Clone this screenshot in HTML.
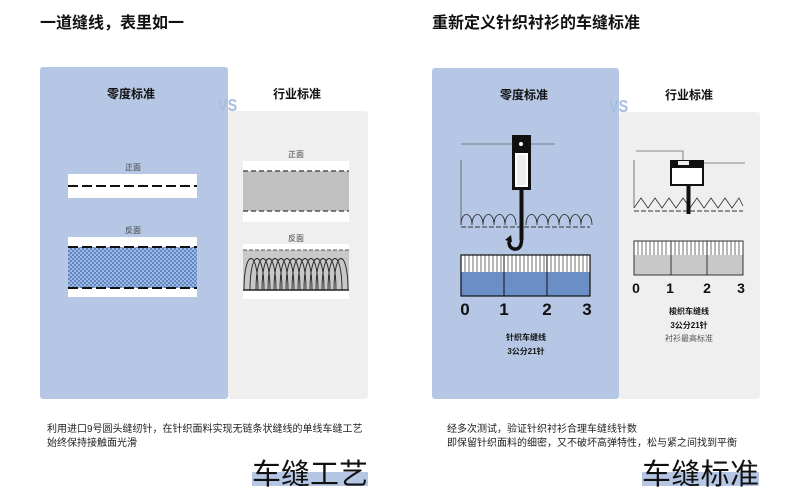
<!DOCTYPE html>
<html><head><meta charset="utf-8"><style>
body{margin:0;width:800px;height:500px;background:#fff;overflow:hidden;font-family:"Liberation Sans","Noto Sans CJK SC",sans-serif;}
svg{position:absolute;left:0;top:0}
</style></head><body>
<svg width="800" height="500" viewBox="0 0 800 500" xmlns="http://www.w3.org/2000/svg" font-family="Liberation Sans, Noto Sans CJK SC, sans-serif">
<defs>
<pattern id="dots" width="4" height="4" patternUnits="userSpaceOnUse"><rect width="4" height="4" fill="#6088c6"/><circle cx="1" cy="1" r="1" fill="#b3c6e6"/><circle cx="3" cy="3" r="1" fill="#b3c6e6"/></pattern>
</defs>
<text x="40" y="28" font-size="16" font-weight="bold" fill="#111">一道缝线，表里如一</text>
<text x="432" y="28" font-size="16" font-weight="bold" fill="#111">重新定义针织衬衫的车缝标准</text>

<!-- LEFT -->
<rect x="228" y="111" width="140" height="288" rx="3" fill="#efefef"/>
<rect x="40" y="67" width="188" height="332" rx="3" fill="#b5c7e4"/>
<text x="131" y="98" font-size="12" font-weight="bold" text-anchor="middle" fill="#111">零度标准</text>
<text x="297" y="98" font-size="12" font-weight="bold" text-anchor="middle" fill="#111">行业标准</text>
<text x="0" y="0" font-size="18" font-weight="bold" fill="#a8bde0" transform="translate(218,111) scale(0.8,1)">VS</text>
<text x="133" y="170" font-size="8" text-anchor="middle" fill="#444">正面</text>
<rect x="68" y="174" width="129" height="24" fill="#fff"/>
<line x1="68" y1="186" x2="197" y2="186" stroke="#111" stroke-width="2" stroke-dasharray="10,4"/>
<text x="133" y="233" font-size="8" text-anchor="middle" fill="#444">反面</text>
<rect x="68" y="237" width="129" height="60" fill="#fff"/>
<rect x="68" y="247" width="129" height="41" fill="url(#dots)"/>
<line x1="68" y1="247" x2="197" y2="247" stroke="#111" stroke-width="2" stroke-dasharray="10,4"/>
<line x1="68" y1="288" x2="197" y2="288" stroke="#111" stroke-width="2" stroke-dasharray="10,4"/>

<text x="296" y="157" font-size="8" text-anchor="middle" fill="#444">正面</text>
<rect x="243" y="161" width="106" height="61" fill="#fff"/>
<rect x="243" y="171" width="106" height="40" fill="#c0c0c0"/>
<line x1="243" y1="171" x2="349" y2="171" stroke="#555" stroke-width="1.5" stroke-dasharray="5,3"/>
<line x1="243" y1="211" x2="349" y2="211" stroke="#555" stroke-width="1.5" stroke-dasharray="5,3"/>
<text x="296" y="241" font-size="8" text-anchor="middle" fill="#444">反面</text>
<rect x="243" y="244" width="106" height="55" fill="#fff"/>
<rect x="243" y="250" width="106" height="40" fill="#c8c8c8"/>
<g fill="none" stroke="#222" stroke-width="0.9">
<path d="M244 290 C244 248 258 248 258 290 M250 290 C250 248 264 248 264 290 M256 290 C256 248 270 248 270 290 M262 290 C262 248 276 248 276 290 M268 290 C268 248 282 248 282 290 M274 290 C274 248 288 248 288 290 M280 290 C280 248 294 248 294 290 M286 290 C286 248 300 248 300 290 M292 290 C292 248 306 248 306 290 M298 290 C298 248 312 248 312 290 M304 290 C304 248 318 248 318 290 M310 290 C310 248 324 248 324 290 M316 290 C316 248 330 248 330 290 M322 290 C322 248 336 248 336 290 M328 290 C328 248 342 248 342 290 M334 290 C334 248 348 248 348 290"/>
</g>
<line x1="243" y1="250" x2="349" y2="250" stroke="#555" stroke-dasharray="4,2"/>
<line x1="243" y1="290" x2="349" y2="290" stroke="#222" stroke-width="1.5"/>

<text x="47" y="432" font-size="10" fill="#222">利用进口9号圆头缝纫针，在针织面料实现无链条状缝线的单线车缝工艺</text>
<text x="47" y="446" font-size="10" fill="#222">始终保持接触面光滑</text>
<rect x="252" y="472" width="116" height="14" fill="#b5c7e4"/>
<text x="252" y="484" font-size="29" fill="#111" textLength="116">车缝工艺</text>

<!-- RIGHT -->
<rect x="619" y="112" width="141" height="287" rx="3" fill="#efefef"/>
<rect x="432" y="68" width="187" height="331" rx="3" fill="#b5c7e4"/>
<text x="524" y="99" font-size="12" font-weight="bold" text-anchor="middle" fill="#111">零度标准</text>
<text x="689" y="99" font-size="12" font-weight="bold" text-anchor="middle" fill="#111">行业标准</text>
<text x="0" y="0" font-size="18" font-weight="bold" fill="#a8bde0" transform="translate(609,112) scale(0.8,1)">VS</text>
<!-- hook machine -->
<line x1="461" y1="144" x2="555" y2="144" stroke="#666" stroke-width="0.8"/>
<line x1="461" y1="160" x2="461" y2="225" stroke="#555" stroke-width="0.8"/>
<g fill="none" stroke="#222" stroke-width="0.8">
<path d="M461 225 C461 211 472 211 472 225 C472 211 483 211 483 225 C483 211 494 211 494 225 C494 211 505 211 505 225 C505 211 516 211 516 225 M526 225 C526 211 537 211 537 225 C537 211 548 211 548 225 C548 211 559 211 559 225 C559 211 570 211 570 225 C570 211 581 211 581 225 C581 211 592 211 592 225"/>
</g>
<line x1="461" y1="227" x2="590" y2="227" stroke="#333" stroke-width="1" stroke-dasharray="5,2"/>
<rect x="512" y="135" width="19" height="55" fill="#111"/>
<rect x="515" y="153" width="13" height="34" fill="#fff"/>
<rect x="517" y="155" width="9" height="30" fill="#eee"/>
<circle cx="521" cy="144" r="2" fill="#fff"/>
<rect x="519.5" y="190" width="4" height="50" fill="#111"/>
<path d="M521.5 238 Q522 250 514 249 Q507 247 510 238" fill="none" stroke="#111" stroke-width="3.5"/>
<path d="M505 240 L511 235 L512 242 Z" fill="#111"/>
<!-- ruler -->
<rect x="461" y="255" width="129" height="41" fill="#fff" stroke="#111" stroke-width="1"/>
<rect x="461" y="272" width="129" height="24" fill="#6a8fc6"/>
<g stroke="#333" stroke-width="0.7">
<path d="M465 255v17M469 255v17M473 255v17M477 255v17M481 255v17M485 255v17M489 255v17M493 255v17M497 255v17M501 255v17M508 255v17M512 255v17M516 255v17M520 255v17M524 255v17M528 255v17M532 255v17M536 255v17M540 255v17M544 255v17M551 255v17M555 255v17M559 255v17M563 255v17M567 255v17M571 255v17M575 255v17M579 255v17M583 255v17M587 255v17"/>
</g>
<rect x="461" y="255" width="129" height="41" fill="none" stroke="#111" stroke-width="1.2"/>
<line x1="504" y1="255" x2="504" y2="296" stroke="#111"/>
<line x1="547" y1="255" x2="547" y2="296" stroke="#111"/>
<g font-size="17" font-weight="bold" fill="#111" text-anchor="middle">
<text x="465" y="315">0</text><text x="504" y="315">1</text><text x="547" y="315">2</text><text x="587" y="315">3</text>
</g>
<text x="526" y="340" font-size="8" font-weight="bold" text-anchor="middle" fill="#111">针织车缝线</text>
<text x="526" y="354" font-size="8" font-weight="bold" text-anchor="middle" fill="#111">3公分21针</text>

<!-- gray machine -->
<path d="M636 151 H683 V164 H690" fill="none" stroke="#666" stroke-width="0.8"/>
<line x1="704" y1="163" x2="745" y2="163" stroke="#666" stroke-width="0.8"/>
<line x1="634" y1="160" x2="634" y2="208" stroke="#555" stroke-width="0.8"/>
<path d="M634 208 L641 198 L648 208 L655 198 L662 208 L669 198 L676 208 L683 198 L690 208 L697 198 L704 208 L711 198 L718 208 L725 198 L732 208 L739 198 L743 206" fill="none" stroke="#333" stroke-width="0.8"/>
<line x1="634" y1="211" x2="743" y2="211" stroke="#333" stroke-dasharray="5,2"/>
<rect x="670" y="160" width="34" height="26" fill="#111"/>
<rect x="672" y="168" width="30" height="16" fill="#fff"/>
<rect x="678" y="161" width="11" height="4" fill="#eee"/>
<rect x="686.5" y="186" width="4" height="28" fill="#111"/>
<rect x="634" y="241" width="109" height="34" fill="#fff"/>
<rect x="634" y="255" width="109" height="20" fill="#c8c8c8"/>
<g stroke="#333" stroke-width="0.7">
<path d="M638 241v14M642 241v14M646 241v14M650 241v14M654 241v14M658 241v14M662 241v14M666 241v14M675 241v14M679 241v14M683 241v14M687 241v14M691 241v14M695 241v14M699 241v14M703 241v14M711 241v14M715 241v14M719 241v14M723 241v14M727 241v14M731 241v14M735 241v14M739 241v14"/>
</g>
<rect x="634" y="241" width="109" height="34" fill="none" stroke="#333" stroke-width="1"/>
<line x1="671" y1="241" x2="671" y2="275" stroke="#333"/>
<line x1="707" y1="241" x2="707" y2="275" stroke="#333"/>
<g font-size="14" font-weight="bold" fill="#111" text-anchor="middle">
<text x="636" y="293">0</text><text x="670" y="293">1</text><text x="707" y="293">2</text><text x="741" y="293">3</text>
</g>
<text x="689" y="314" font-size="8" font-weight="bold" text-anchor="middle" fill="#111">梭织车缝线</text>
<text x="689" y="328" font-size="8" font-weight="bold" text-anchor="middle" fill="#111">3公分21针</text>
<text x="689" y="341" font-size="8" text-anchor="middle" fill="#555">衬衫最高标准</text>

<text x="447" y="432" font-size="10" fill="#222">经多次测试，验证针织衬衫合理车缝线针数</text>
<text x="447" y="446" font-size="10" fill="#222">即保留针织面料的细密，又不破坏高弹特性，松与紧之间找到平衡</text>
<rect x="642" y="472" width="117" height="14" fill="#b5c7e4"/>
<text x="642" y="484" font-size="29" fill="#111" textLength="117">车缝标准</text>
</svg>
</body></html>
